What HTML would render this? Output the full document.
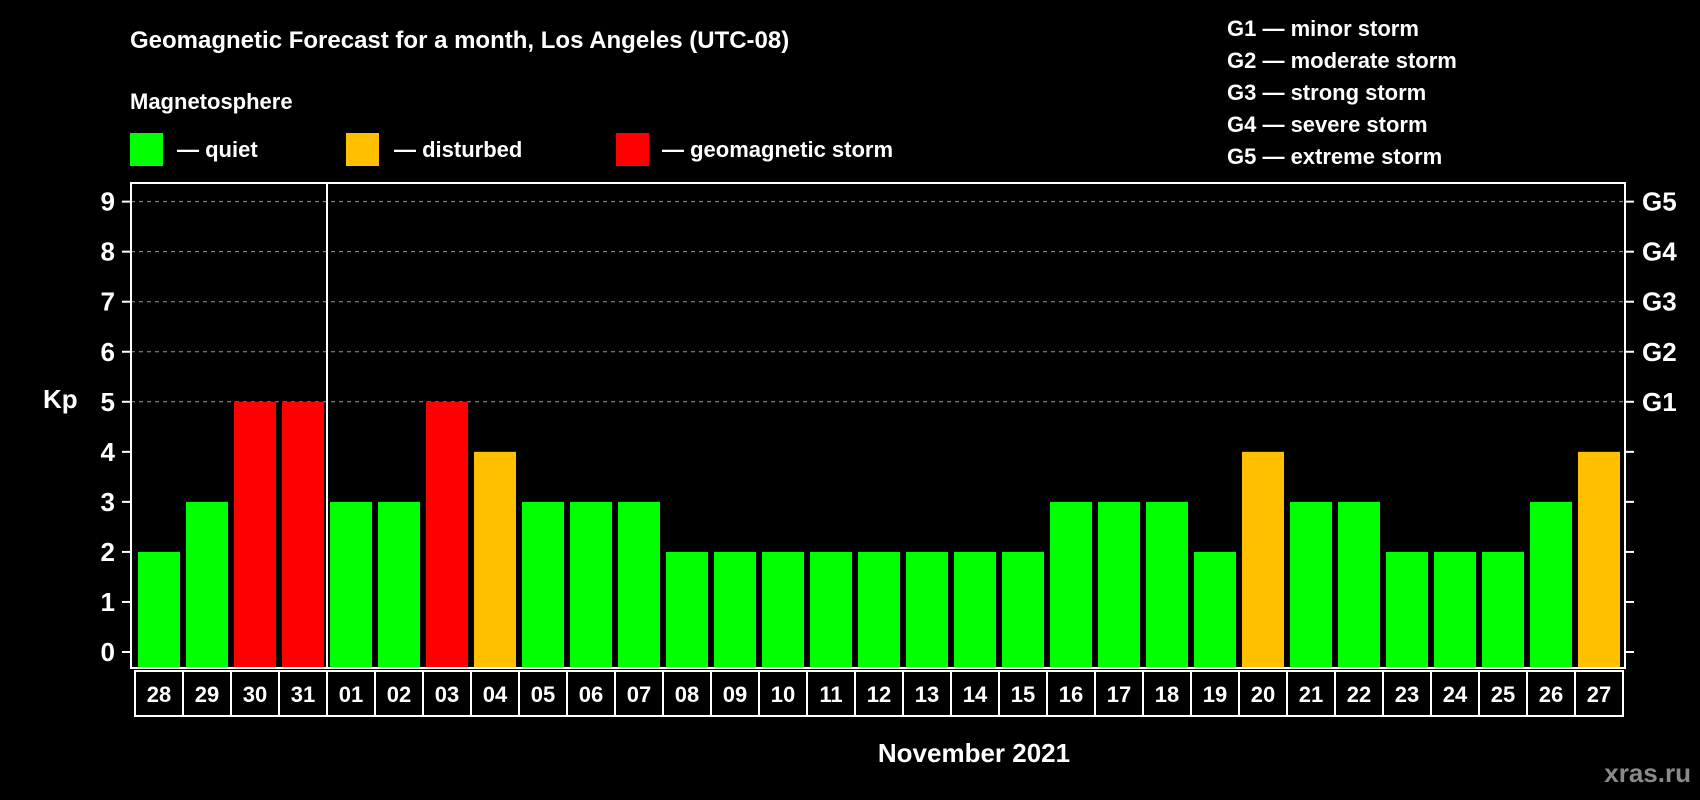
<!DOCTYPE html>
<html><head><meta charset="utf-8"><style>
html,body{margin:0;padding:0;background:#000;}
svg{display:block;font-family:"Liberation Sans",sans-serif;font-weight:bold;}
</style></head><body>
<svg id="chart" width="1700" height="800" viewBox="0 0 1700 800" xmlns="http://www.w3.org/2000/svg">
<rect width="1700" height="800" fill="#000"/>
<text x="130" y="48" fill="#fff" font-size="24">Geomagnetic Forecast for a month, Los Angeles (UTC-08)</text>
<text x="130" y="109" fill="#fff" font-size="22">Magnetosphere</text>
<g><rect x="130" y="133" width="33" height="33" fill="#00ff00"/><text x="177" y="157" fill="#fff" font-size="22">— quiet</text></g>
<g><rect x="346" y="133" width="33" height="33" fill="#ffc000"/><text x="394" y="157" fill="#fff" font-size="22">— disturbed</text></g>
<g><rect x="616" y="133" width="33" height="33" fill="#ff0000"/><text x="662" y="157" fill="#fff" font-size="22">— geomagnetic storm</text></g>
<g fill="#fff" font-size="22">
<text x="1227" y="36">G1 — minor storm</text>
<text x="1227" y="68">G2 — moderate storm</text>
<text x="1227" y="100">G3 — strong storm</text>
<text x="1227" y="132">G4 — severe storm</text>
<text x="1227" y="164">G5 — extreme storm</text>
</g>
<text x="43" y="408" fill="#fff" font-size="26">Kp</text>
<text x="974" y="762" fill="#fff" font-size="26" text-anchor="middle">November 2021</text>
<text x="1691" y="782" fill="#8a8a8a" font-size="26" text-anchor="end">xras.ru</text>
<g id="grid"></g><g id="bars"></g><g id="axes"></g><g id="labels"></g>
</svg>
<script>
const days = ["28","29","30","31","01","02","03","04","05","06","07","08","09","10","11","12","13","14","15","16","17","18","19","20","21","22","23","24","25","26","27"];
const kpValues = [2,3,5,5,3,3,5,4,3,3,3,2,2,2,2,2,2,2,2,3,3,3,2,4,3,3,2,2,2,3,4];
const yTicks = [0,1,2,3,4,5,6,7,8,9];
const gLabels = ["G1","G2","G3","G4","G5"];
const gLevels = [5,6,7,8,9];

const NS="http://www.w3.org/2000/svg";
const L=131,R=1625,T=183,B=668;
const y0=652, unit=50.04;
function yScale(v){return y0-v*unit;}
function xScale(i){return 138+i*48;}
function mk(tag,attrs,parent){const e=document.createElementNS(NS,tag);for(const k in attrs)e.setAttribute(k,attrs[k]);parent.appendChild(e);return e;}
const grid=document.getElementById('grid'),bars=document.getElementById('bars'),axes=document.getElementById('axes'),labels=document.getElementById('labels');

gLevels.forEach((v,i)=>{
  const ln=mk('line',{x1:L,x2:R,y1:yScale(v),y2:yScale(v),stroke:'#999','stroke-dasharray':'4,4','stroke-width':1},grid);
  
  
  const t=mk('text',{x:1642,y:yScale(v)+9,fill:'#fff','font-size':26},axes);
  t.textContent=gLabels[i];
  
  
});

kpValues.forEach((v,i)=>{
  const c=v>=5?'#ff0000':(v>=4?'#ffc000':'#00ff00');
  const r=mk('rect',{x:xScale(i),y:yScale(v),width:42,height:B-1-yScale(v),fill:c},bars);
  
  
});

const frame=mk('rect',{x:L,y:T,width:R-L,height:B-T,fill:'none',stroke:'#fff','stroke-width':2},axes);


const div=mk('line',{x1:327,x2:327,y1:T,y2:B,stroke:'#fff','stroke-width':2},axes);



yTicks.forEach(v=>{
  mk('line',{x1:122,x2:L,y1:yScale(v),y2:yScale(v),stroke:'#fff','stroke-width':2},axes);
  mk('line',{x1:R,x2:1634,y1:yScale(v),y2:yScale(v),stroke:'#fff','stroke-width':2},axes);
  const t=mk('text',{x:115,y:yScale(v)+9,fill:'#fff','font-size':26,'text-anchor':'end'},axes);
  t.textContent=v;
  
  
});

days.forEach((d,i)=>{
  const bx=135+i*48;
  const b=mk('rect',{x:bx,y:671,width:48,height:45,fill:'none',stroke:'#fff','stroke-width':2},labels);
  
  
  const t=mk('text',{x:bx+24,y:702,fill:'#fff','font-size':22,'text-anchor':'middle'},labels);
  t.textContent=d;
  
  
});
</script>
</body></html>
